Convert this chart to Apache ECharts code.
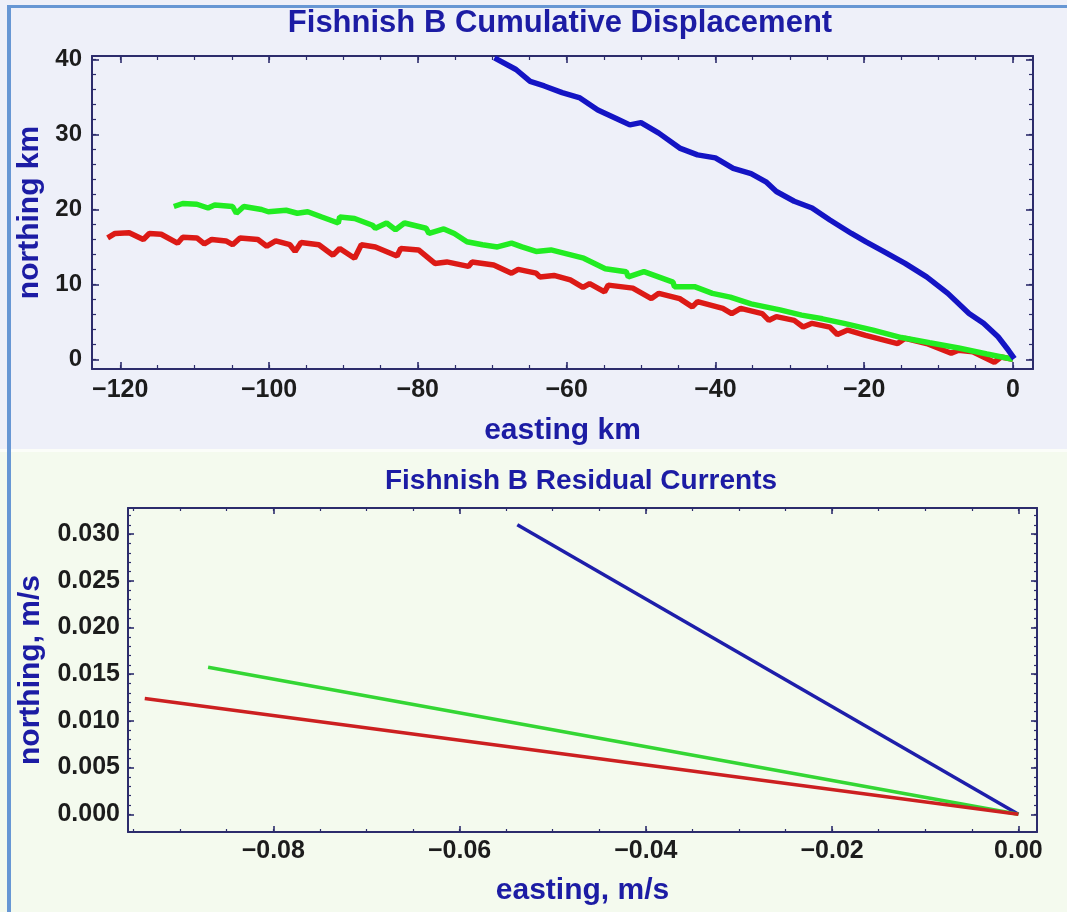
<!DOCTYPE html>
<html><head><meta charset="utf-8">
<script src="https://cdn.jsdelivr.net/npm/echarts@6/dist/echarts.min.js"></script>
<style>html,body{margin:0;padding:0;background:#fff}#c{width:1067px;height:912px}</style>
</head><body><div id="c"></div>
<script>
// ---- Cumulative displacement (km) ----
const blueEasting = [-69.7,-66.8,-64.9,-63.0,-60.6,-58.2,-55.8,-53.4,-51.5,-50.0,-47.6,-44.8,-42.4,-40.0,-37.6,-35.2,-33.2,-31.8,-29.4,-27.0,-24.6,-21.7,-19.8,-17.4,-14.5,-11.6,-8.75,-5.9,-3.95,-2.0,-0.6,0.2];
const blueNorthing = [40.25,38.7,37.1,36.5,35.6,34.9,33.3,32.2,31.3,31.6,30.2,28.2,27.3,26.9,25.5,24.8,23.7,22.4,21.1,20.2,18.6,16.8,15.7,14.4,12.8,11.0,8.8,6.1,4.8,3.0,1.2,0.1];

const greenEasting = [-112.8,-111.6,-109.7,-108.2,-107.3,-104.9,-104.4,-103.4,-101.0,-100.1,-97.7,-96.2,-94.8,-92.9,-90.7,-90.5,-88.5,-86.1,-85.7,-84.2,-83.0,-81.8,-78.9,-78.5,-76.5,-75.1,-73.4,-71.3,-69.3,-67.4,-66.0,-64.1,-62.1,-60.1,-57.7,-54.8,-52.0,-51.7,-49.6,-45.7,-45.5,-42.8,-40.4,-38.0,-35.2,-31.3,-28.4,-25.6,-22.7,-18.8,-15.0,-11.2,-7.3,-3.5,0.0];
const greenNorthing = [20.4,20.8,20.7,20.2,20.6,20.4,19.5,20.4,20.0,19.7,19.9,19.5,19.7,19.0,18.2,19.0,18.8,17.9,17.5,18.2,17.3,18.2,17.5,16.8,17.4,16.8,15.7,15.3,15.0,15.5,15.0,14.4,14.6,14.1,13.5,12.1,11.7,11.0,11.7,10.3,9.7,9.7,8.8,8.3,7.4,6.6,5.9,5.4,4.8,3.9,2.9,2.2,1.5,0.7,0.0];

const redEasting = [-121.7,-120.7,-118.8,-116.9,-116.1,-114.5,-112.3,-111.6,-109.7,-108.7,-107.7,-105.8,-104.9,-103.9,-101.5,-100.3,-99.1,-97.2,-96.5,-95.7,-93.3,-91.4,-90.5,-88.5,-87.6,-85.7,-82.8,-82.3,-79.9,-77.7,-76.1,-73.2,-72.7,-69.8,-67.4,-66.5,-64.1,-63.6,-61.7,-59.5,-57.8,-56.9,-54.9,-54.4,-51.1,-48.6,-47.6,-44.8,-43.1,-42.4,-39.0,-37.8,-36.6,-33.7,-32.8,-31.8,-29.4,-28.2,-27.0,-24.6,-23.6,-22.2,-19.8,-15.5,-14.5,-11.6,-8.3,-7.3,-5.4,-2.5,-1.6,0.0];
const redNorthing = [16.2,16.8,16.9,16.0,16.8,16.7,15.5,16.3,16.2,15.4,16.0,15.8,15.3,16.2,16.0,15.1,15.8,15.3,14.4,15.6,15.3,13.9,14.8,13.5,15.3,15.0,13.8,14.8,14.6,12.8,13.0,12.4,13.0,12.6,11.5,12.0,11.5,11.0,11.2,10.6,9.6,10.1,9.0,9.9,9.5,8.1,8.8,8.1,7.0,7.7,6.8,6.1,6.8,6.1,5.2,5.7,5.2,4.3,4.8,4.3,3.3,3.9,3.2,2.1,2.8,2.1,0.8,1.2,1.0,-0.4,0.3,0.0];

// ---- Residual currents (m/s): end points of vectors from origin (blue, green, red) ----
const residualEasting = [-0.0538, -0.0870, -0.0938];
const residualNorthing = [0.0310, 0.01575, 0.0124];

// ---- Tick labels ----
const topXMajor = [-120,-100,-80,-60,-40,-20,0];
const topXMinor = [-120,-115,-110,-105,-100,-95,-90,-85,-80,-75,-70,-65,-60,-55,-50,-45,-40,-35,-30,-25,-20,-15,-10,-5,0];
const topYMajor = [0,10,20,30,40];
const topYMinor = [0,2,4,6,8,10,12,14,16,18,20,22,24,26,28,30,32,34,36,38,40];
const botXMajor = [-0.08,-0.06,-0.04,-0.02,0];
const botXMinor = [-0.095,-0.09,-0.085,-0.08,-0.075,-0.07,-0.065,-0.06,-0.055,-0.05,-0.045,-0.04,-0.035,-0.03,-0.025,-0.02,-0.015,-0.01,-0.005,0];
const botYMajor = [0,0.005,0.01,0.015,0.02,0.025,0.03];
const botYMinor = [0,0.001,0.002,0.003,0.004,0.005,0.006,0.007,0.008,0.009,0.01,0.011,0.012,0.013,0.014,0.015,0.016,0.017,0.018,0.019,0.02,0.021,0.022,0.023,0.024,0.025,0.026,0.027,0.028,0.029,0.03,0.031,0.032];

const zip = (a, b) => a.map((v, i) => [v, b[i]]);

const FONT = '"Liberation Sans", Arial, sans-serif';
const NAVY = '#2c2c6c';
const TITLE_BLUE = '#1c1ca4';

function axes(dim, grid, min, max, major, minor, fmt, o) {
  const pos = dim === 'x' ? ['bottom', 'top'] : ['left', 'right'];
  const base = { type: 'value', gridIndex: grid, min: min, max: max, splitLine: { show: false } };
  const line = { show: true, onZero: false, lineStyle: { color: NAVY, width: 2 } };
  const noLine = { show: false, onZero: false };
  const majT = { show: true, inside: true, length: o.majLen, customValues: major, lineStyle: { color: NAVY, width: 1.6 } };
  const minT = { show: true, inside: true, length: o.minLen, customValues: minor, lineStyle: { color: NAVY, width: 1.2 } };
  return [
    Object.assign({}, base, {
      position: pos[0], axisLine: line, axisTick: majT,
      axisLabel: { show: true, customValues: major, formatter: fmt, margin: o.margin, color: '#1c1c1c', fontFamily: FONT, fontWeight: 'bold', fontSize: o.labelSize },
      name: o.name, nameLocation: 'middle', nameGap: o.nameGap, nameRotate: dim === 'y' ? 90 : 0,
      nameTextStyle: { color: TITLE_BLUE, fontFamily: FONT, fontWeight: 'bold', fontSize: o.nameSize }
    }),
    Object.assign({}, base, { position: pos[0], axisLine: noLine, axisTick: minT, axisLabel: { show: false } }),
    Object.assign({}, base, { position: pos[1], axisLine: line, axisTick: majT, axisLabel: { show: false } }),
    Object.assign({}, base, { position: pos[1], axisLine: noLine, axisTick: minT, axisLabel: { show: false } })
  ];
}

const minusFmt = v => (v < 0 ? '\u2212' : '') + Math.abs(v);
const minusFmt2 = v => (v < 0 ? '\u2212' : '') + Math.abs(v).toFixed(2);
const fmt3 = v => Math.abs(v).toFixed(3);

const chart = echarts.init(document.getElementById('c'), null, { renderer: 'canvas' });

const option = {
  backgroundColor: '#eef0f9',
  animation: false,
  graphic: [
    { type: 'rect', z: -10, shape: { x: 0, y: 450, width: 1067, height: 462 }, style: { fill: '#f4faee' }, silent: true },
    { type: 'rect', z: -9, shape: { x: 0, y: 449, width: 1067, height: 3 }, style: { fill: '#fbfdf9' }, silent: true },
    { type: 'rect', z: -8, shape: { x: 7, y: 5, width: 4, height: 907 }, style: { fill: '#6797d4' }, silent: true },
    { type: 'rect', z: -8, shape: { x: 7, y: 5, width: 1060, height: 3 }, style: { fill: '#6797d4' }, silent: true },
    { type: 'text', x: 560, y: 23, style: { text: 'Fishnish B Cumulative Displacement', textAlign: 'center', textVerticalAlign: 'middle', fill: TITLE_BLUE, font: 'bold 31px ' + FONT } },
    { type: 'text', x: 581, y: 481, style: { text: 'Fishnish B Residual Currents', textAlign: 'center', textVerticalAlign: 'middle', fill: TITLE_BLUE, font: 'bold 28px ' + FONT } }
  ],
  grid: [
    { left: 92, top: 56, width: 941, height: 313 },
    { left: 128, top: 508, width: 909, height: 324 }
  ],
  xAxis: [].concat(
    axes('x', 0, -123.8, 2.7, topXMajor, topXMinor, minusFmt, { majLen: 7, minLen: 4, margin: 9, labelSize: 25, name: 'easting km', nameGap: 47, nameSize: 30 }),
    axes('x', 1, -0.0956, 0.002, botXMajor, botXMinor, minusFmt2, { majLen: 6, minLen: 3, margin: 7, labelSize: 25, name: 'easting, m/s', nameGap: 44, nameSize: 30 })
  ),
  yAxis: [].concat(
    axes('y', 0, -1.3, 40.5, topYMajor, topYMinor, minusFmt, { majLen: 7, minLen: 4, margin: 10, labelSize: 24, name: 'northing km', nameGap: 46, nameSize: 30 }),
    axes('y', 1, -0.0019, 0.0328, botYMajor, botYMinor, fmt3, { majLen: 6, minLen: 3, margin: 8, labelSize: 25, name: 'northing, m/s', nameGap: 82, nameSize: 30 })
  ),
  series: [
    { type: 'line', name: 'red', xAxisIndex: 0, yAxisIndex: 0, data: zip(redEasting, redNorthing), showSymbol: false, lineStyle: { color: '#dc1a16', width: 5.5 }, z: 3 },
    { type: 'line', name: 'green', xAxisIndex: 0, yAxisIndex: 0, data: zip(greenEasting, greenNorthing), showSymbol: false, lineStyle: { color: '#22ec22', width: 5.5 }, z: 4 },
    { type: 'line', name: 'blue', xAxisIndex: 0, yAxisIndex: 0, data: zip(blueEasting, blueNorthing), showSymbol: false, lineStyle: { color: '#1414c4', width: 5.5 }, z: 5 },
    { type: 'line', name: 'blue residual', xAxisIndex: 4, yAxisIndex: 4, data: [[0, 0], [residualEasting[0], residualNorthing[0]]], showSymbol: false, lineStyle: { color: '#1e1eaa', width: 3.5 }, z: 3 },
    { type: 'line', name: 'green residual', xAxisIndex: 4, yAxisIndex: 4, data: [[0, 0], [residualEasting[1], residualNorthing[1]]], showSymbol: false, lineStyle: { color: '#34d634', width: 3.5 }, z: 4 },
    { type: 'line', name: 'red residual', xAxisIndex: 4, yAxisIndex: 4, data: [[0, 0], [residualEasting[2], residualNorthing[2]]], showSymbol: false, lineStyle: { color: '#cc2020', width: 3.5 }, z: 5 }
  ]
};
chart.setOption(option);
</script>
</body></html>
